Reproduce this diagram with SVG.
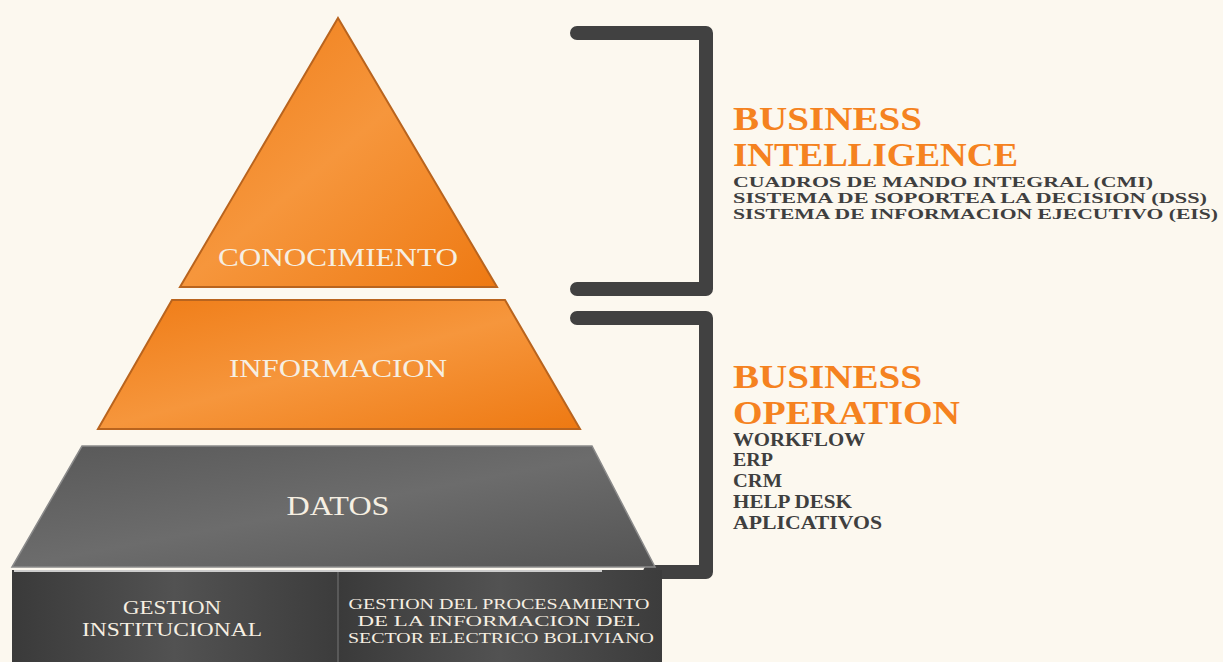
<svg xmlns="http://www.w3.org/2000/svg" width="1223" height="662" viewBox="0 0 1223 662">
<defs>
<linearGradient id="org" x1="0" y1="0" x2="1" y2="1">
<stop offset="0" stop-color="#EF7B15"/>
<stop offset="0.5" stop-color="#F6963C"/>
<stop offset="1" stop-color="#EE7912"/>
</linearGradient>
<linearGradient id="gry" x1="0" y1="0" x2="1" y2="1">
<stop offset="0" stop-color="#585858"/>
<stop offset="0.5" stop-color="#6c6c6c"/>
<stop offset="1" stop-color="#545454"/>
</linearGradient>
<linearGradient id="dk" x1="0" y1="0" x2="1" y2="0">
<stop offset="0" stop-color="#3a3a3a"/>
<stop offset="0.5" stop-color="#525252"/>
<stop offset="1" stop-color="#3c3c3c"/>
</linearGradient>
<style>
.lbl{font-family:"Liberation Serif",serif;fill:#F6EFE2;text-anchor:middle}
.hd{font-family:"Liberation Serif",serif;font-weight:bold;fill:#F58220}
.sub{font-family:"Liberation Serif",serif;font-weight:bold;fill:#3f3f3f}
.br{fill:none;stroke:#414141;stroke-width:14;stroke-linecap:round;stroke-linejoin:round}
</style>
</defs>
<rect width="1223" height="662" fill="#FCF8EF"/>
<g id="connectors">
<path class="br" d="M577 33 H706 V289 H577"/>
<path class="br" d="M577 318 H706 V572 H650"/>
</g>
<g id="conocimiento">
<polygon points="338,18 497,287 180,287" fill="url(#org)" stroke="#B9641E" stroke-width="2"/>
<text class="lbl" x="338" y="266" font-size="26" textLength="240" lengthAdjust="spacingAndGlyphs">CONOCIMIENTO</text>
</g>
<g id="informacion">
<polygon points="172,300 505,300 580,429 98,429" fill="url(#org)" stroke="#B9641E" stroke-width="2"/>
<text class="lbl" x="338" y="377" font-size="26" textLength="218" lengthAdjust="spacingAndGlyphs">INFORMACION</text>
</g>
<g id="datos">
<polygon points="82,446 592,446 655,567 12,567" fill="url(#gry)" stroke="#8a8a8a" stroke-width="1.5"/>
<text class="lbl" x="338" y="515" font-size="28" textLength="103" lengthAdjust="spacingAndGlyphs">DATOS</text>
</g>
<g id="gestion-institucional">
<rect x="12" y="570" width="326" height="92" fill="url(#dk)"/>
<line x1="14" y1="571" x2="338" y2="571" stroke="#ccc" stroke-width="2"/>
<text class="lbl" x="172" y="614" font-size="19" textLength="98" lengthAdjust="spacingAndGlyphs">GESTION</text>
<text class="lbl" x="172" y="636" font-size="19" textLength="180" lengthAdjust="spacingAndGlyphs">INSTITUCIONAL</text>
</g>
<g id="gestion-procesamiento">
<rect x="338" y="570" width="324" height="92" fill="url(#dk)"/>
<line x1="338" y1="571" x2="602" y2="571" stroke="#ccc" stroke-width="2"/>
<line x1="338" y1="572" x2="338" y2="662" stroke="#777" stroke-width="1"/>
<text class="lbl" x="499" y="609" font-size="15" textLength="301" lengthAdjust="spacingAndGlyphs">GESTION DEL PROCESAMIENTO</text>
<text class="lbl" x="499" y="626" font-size="15" textLength="283" lengthAdjust="spacingAndGlyphs">DE LA INFORMACION DEL</text>
<text class="lbl" x="501" y="643" font-size="15" textLength="306" lengthAdjust="spacingAndGlyphs">SECTOR ELECTRICO BOLIVIANO</text>
</g>
<g id="business-intelligence">
<text class="hd" x="733" y="130" font-size="33" textLength="189" lengthAdjust="spacingAndGlyphs">BUSINESS</text>
<text class="hd" x="733" y="166" font-size="33" textLength="285" lengthAdjust="spacingAndGlyphs">INTELLIGENCE</text>
<text class="sub" x="733" y="187" font-size="14.5" textLength="420" lengthAdjust="spacingAndGlyphs">CUADROS DE MANDO INTEGRAL (CMI)</text>
<text class="sub" x="733" y="203" font-size="14.5" textLength="474" lengthAdjust="spacingAndGlyphs">SISTEMA DE SOPORTEA LA DECISION (DSS)</text>
<text class="sub" x="733" y="219" font-size="14.5" textLength="485" lengthAdjust="spacingAndGlyphs">SISTEMA DE INFORMACION EJECUTIVO (EIS)</text>
</g>
<g id="business-operation">
<text class="hd" x="733" y="388" font-size="33" textLength="189" lengthAdjust="spacingAndGlyphs">BUSINESS</text>
<text class="hd" x="733" y="424" font-size="33" textLength="227" lengthAdjust="spacingAndGlyphs">OPERATION</text>
<text class="sub" x="733" y="446" font-size="18" textLength="132" lengthAdjust="spacingAndGlyphs">WORKFLOW</text>
<text class="sub" x="733" y="466" font-size="18" textLength="40" lengthAdjust="spacingAndGlyphs">ERP</text>
<text class="sub" x="733" y="487" font-size="18" textLength="49" lengthAdjust="spacingAndGlyphs">CRM</text>
<text class="sub" x="733" y="508" font-size="18" textLength="119" lengthAdjust="spacingAndGlyphs">HELP DESK</text>
<text class="sub" x="733" y="529" font-size="18" textLength="149" lengthAdjust="spacingAndGlyphs">APLICATIVOS</text>
</g>
</svg>
